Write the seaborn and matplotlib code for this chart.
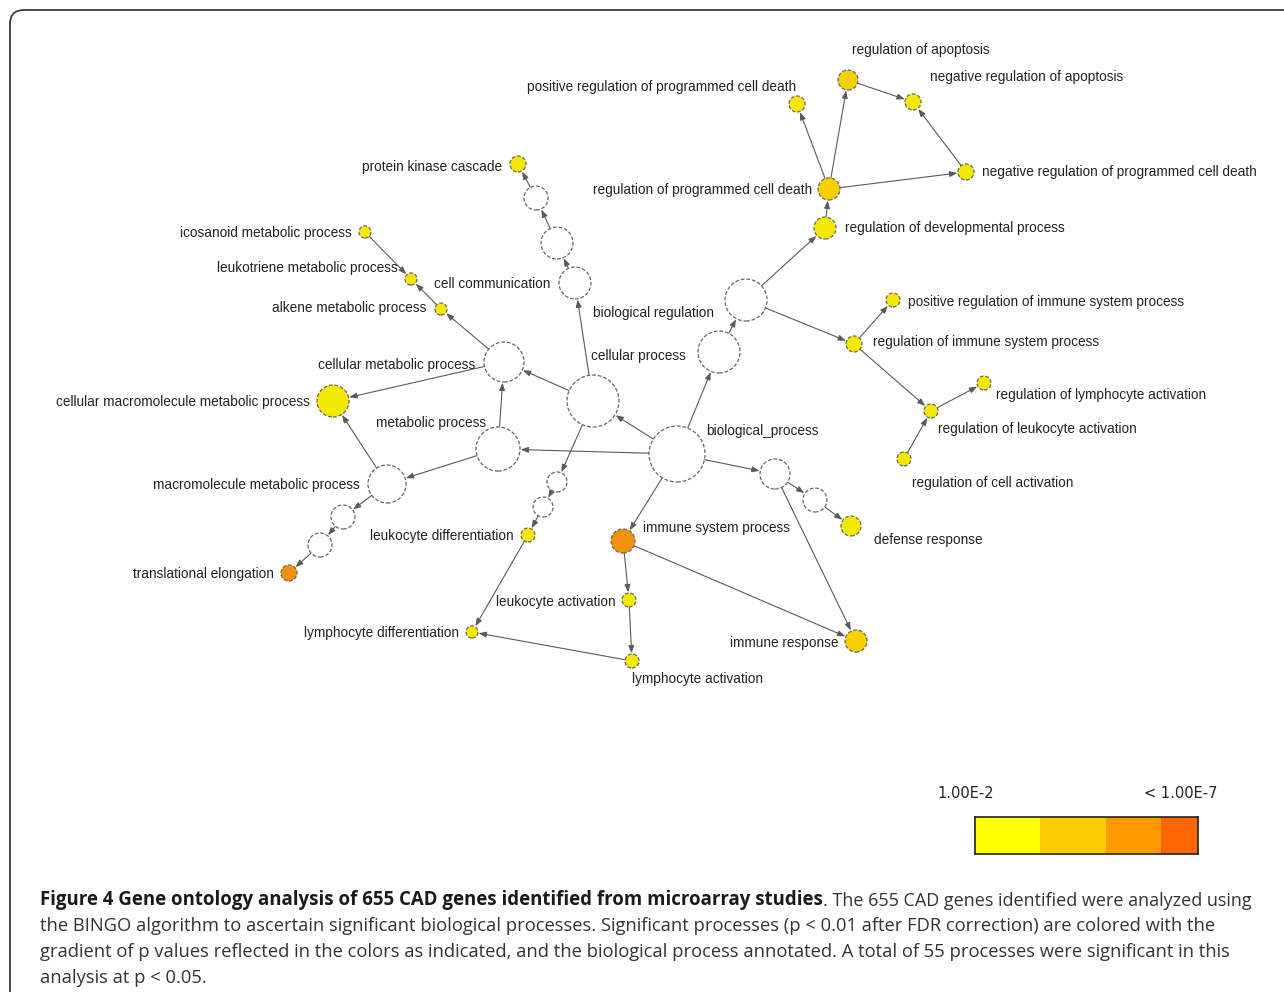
import numpy as np
import pandas as pd
import seaborn as sns
import matplotlib.pyplot as plt
from matplotlib.patches import FancyBboxPatch

sns.set_style("white")
plt.rcParams["font.family"] = ["Liberation Sans", "DejaVu Sans"]

# GO term nodes: id, layout position (px), radius (px), p-value level (0 = not significant)
node_ids = ["reg_apop", "neg_reg_apop", "pos_reg_pcd", "neg_reg_pcd", "reg_pcd", "reg_dev",
            "pkc", "w1", "w2", "cell_comm", "icos", "leuko_met", "alkene", "cell_met",
            "cell_macro", "met", "macro_met", "w3", "w4", "transl", "cell_proc", "bio_proc",
            "bio_reg", "w5", "reg_imm", "pos_reg_imm", "reg_leuk_act", "reg_lymph_act",
            "reg_cell_act", "w6", "w7", "defense", "imm_sys", "leuk_act", "lymph_act",
            "imm_resp", "lymph_diff", "leuk_diff", "w8", "w9"]
node_x = [848, 913, 797, 966, 829, 825, 518, 536, 557, 575, 365, 411, 441, 504,
          333, 498, 387, 343, 320, 289, 593, 677, 719, 746, 854, 893, 931, 984,
          904, 775, 815, 851, 623, 629, 632, 856, 472, 528, 557, 543]
node_y = [80, 102, 104, 172, 189, 228, 164, 198, 243, 283, 232, 279, 309, 362,
          401, 449, 484, 517, 545, 573, 401, 454, 352, 300, 344, 300, 411, 383,
          459, 474, 500, 526, 541, 600, 661, 641, 632, 535, 482, 507]
node_r = [10, 8, 8, 8, 11, 11, 8, 12, 16, 16, 6, 6, 6, 20,
          16, 22, 19, 12, 12, 8, 26, 28, 21, 21, 8, 7, 7, 7,
          7, 15, 12, 10, 12, 7, 7, 11, 6, 7, 10, 10]
node_level = [2, 1, 1, 1, 2, 1, 1, 0, 0, 0, 1, 1, 1, 0,
              1, 0, 0, 0, 0, 3, 0, 0, 0, 0, 1, 1, 1, 1,
              1, 0, 0, 1, 3, 1, 1, 2, 1, 1, 0, 0]

# labels of the annotated processes
label_text = ["regulation of apoptosis", "negative regulation of apoptosis",
              "positive regulation of programmed cell death",
              "negative regulation of programmed cell death",
              "regulation of programmed cell death", "regulation of developmental process",
              "protein kinase cascade", "cell communication", "icosanoid metabolic process",
              "leukotriene metabolic process", "alkene metabolic process",
              "cellular metabolic process", "cellular macromolecule metabolic process",
              "metabolic process", "macromolecule metabolic process", "translational elongation",
              "cellular process", "biological_process", "biological regulation",
              "regulation of immune system process",
              "positive regulation of immune system process",
              "regulation of leukocyte activation", "regulation of lymphocyte activation",
              "regulation of cell activation", "defense response", "immune system process",
              "leukocyte activation", "lymphocyte activation", "immune response",
              "lymphocyte differentiation", "leukocyte differentiation"]
label_x = [921, 930, 796, 982, 812, 845, 502, 550, 352, 398, 426, 475, 310,
           486, 360, 274, 591, 706, 714, 873, 908, 938, 996, 912, 874,
           643, 616, 632, 838, 459, 514]
label_y = [50, 77, 87, 172, 190, 228, 167, 284, 233, 268, 308, 365, 402,
           423, 485, 574, 356, 431, 313, 342, 302, 429, 395, 483, 540,
           528, 602, 679, 643, 633, 536]
label_ha = ["center", "left", "right", "left", "right", "left", "right", "right", "right",
            "right", "right", "right", "right", "right", "right", "right", "left", "left",
            "right", "left", "left", "left", "left", "left", "left", "left", "right",
            "left", "right", "right", "right"]

# directed GO edges (parent -> child)
edges = [("bio_proc", "cell_proc"), ("bio_proc", "met"), ("bio_proc", "bio_reg"),
         ("bio_proc", "imm_sys"), ("bio_proc", "w6"),
         ("cell_proc", "cell_met"), ("cell_proc", "cell_comm"), ("cell_proc", "w8"),
         ("met", "cell_met"), ("met", "macro_met"),
         ("cell_met", "cell_macro"), ("macro_met", "cell_macro"),
         ("cell_met", "alkene"), ("alkene", "leuko_met"), ("icos", "leuko_met"),
         ("cell_comm", "w2"), ("w2", "w1"), ("w1", "pkc"),
         ("macro_met", "w3"), ("w3", "w4"), ("w4", "transl"),
         ("w8", "w9"), ("w9", "leuk_diff"), ("leuk_diff", "lymph_diff"),
         ("imm_sys", "leuk_act"), ("leuk_act", "lymph_act"), ("lymph_act", "lymph_diff"),
         ("imm_sys", "imm_resp"), ("w6", "imm_resp"), ("w6", "w7"), ("w7", "defense"),
         ("bio_reg", "w5"), ("w5", "reg_dev"), ("reg_dev", "reg_pcd"),
         ("reg_pcd", "pos_reg_pcd"), ("reg_pcd", "reg_apop"), ("reg_pcd", "neg_reg_pcd"),
         ("reg_apop", "neg_reg_apop"), ("neg_reg_pcd", "neg_reg_apop"),
         ("w5", "reg_imm"), ("reg_imm", "pos_reg_imm"), ("reg_imm", "reg_leuk_act"),
         ("reg_cell_act", "reg_leuk_act"), ("reg_leuk_act", "reg_lymph_act")]

# p-value colour scale
legend_labels = ["1.00E-2", "< 1.00E-7"]
legend_colors = ["#ffff00", "#ffcc00", "#ff9900", "#ff6600"]
legend_widths = [65, 66, 55, 37]
level_palette = {0: "white", 1: "#f5e800", 2: "#f5cf00", 3: "#f0920e"}

caption_bold = "Figure 4 Gene ontology analysis of 655 CAD genes identified from microarray studies"
caption_lines = [
    ". The 655 CAD genes identified were analyzed using",
    "the BINGO algorithm to ascertain significant biological processes. Significant processes (p < 0.01 after FDR correction) are colored with the",
    "gradient of p values reflected in the colors as indicated, and the biological process annotated. A total of 55 processes were significant in this",
    "analysis at p < 0.05.",
]

nodes = pd.DataFrame({"id": node_ids, "x": node_x, "y": node_y,
                      "r": node_r, "level": node_level})
pos = nodes.set_index("id")

W, H = 1284, 992
fig = plt.figure(figsize=(W / 100, H / 100), dpi=100)
ax = fig.add_axes([0, 0, 1, 1])

# outer frame (rounded top-left corner)
ax.add_patch(FancyBboxPatch((10, 10), 1400, 1100, boxstyle="round,pad=0,rounding_size=14",
                            fill=False, ec="#3a3a3a", lw=1.3))

# edges
px2pt = 0.72
for a, b in edges:
    ax.annotate("", xy=(pos.loc[b, "x"], pos.loc[b, "y"]),
                xytext=(pos.loc[a, "x"], pos.loc[a, "y"]),
                arrowprops=dict(arrowstyle="-|>,head_length=0.45,head_width=0.17",
                                color="#5a5a5a", lw=0.8,
                                shrinkA=pos.loc[a, "r"] * px2pt,
                                shrinkB=pos.loc[b, "r"] * px2pt + 0.5),
                zorder=2)

# nodes
sns.scatterplot(data=nodes, x="x", y="y", hue="level", palette=level_palette,
                s=(2 * nodes["r"] * px2pt) ** 2, edgecolor="#666666", linewidth=0.9,
                linestyle=(0, (3, 1.5)), legend=False, ax=ax, zorder=3)
ax.set_xlim(0, W)
ax.set_ylim(H, 0)
ax.axis("off")

for t, lx, ly, ha in zip(label_text, label_x, label_y, label_ha):
    ax.text(lx, ly, t, ha=ha, va="center", fontsize=9.8, color="#222222", zorder=4)

# p-value legend
ax.text(937, 794, legend_labels[0], ha="left", va="center", fontsize=10.5,
        family="DejaVu Sans", color="#222222")
ax.text(1217, 794, legend_labels[1], ha="right", va="center", fontsize=10.5,
        family="DejaVu Sans", color="#222222")
lax = fig.add_axes([975 / W, 1 - 854 / H, 223 / W, 37 / H])
lefts = np.concatenate([[0], np.cumsum(legend_widths)[:-1]])
lax.barh(0, legend_widths, left=lefts, height=1, color=legend_colors, edgecolor="none")
lax.set_xlim(0, sum(legend_widths))
lax.set_ylim(-0.5, 0.5)
lax.set_xticks([])
lax.set_yticks([])
for sp in lax.spines.values():
    sp.set_visible(True)
    sp.set_color("#222222")
    sp.set_linewidth(1.2)

# caption
cap_font = ["Open Sans", "DejaVu Sans"]
cap_size = 13.2
cap_y = [905, 931, 957, 983]
bold = ax.text(40, cap_y[0], caption_bold, ha="left", va="baseline", fontsize=13.4,
               fontweight="bold", family=cap_font, color="#1a1a1a")
ax.annotate(caption_lines[0], xy=(1, 0), xycoords=bold, ha="left", va="bottom",
            fontsize=13.0, family=cap_font, color="#333333")
for line, yy in zip(caption_lines[1:], cap_y[1:]):
    ax.text(40, yy, line, ha="left", va="baseline", fontsize=cap_size,
            family=cap_font, color="#333333")

fig.savefig("out.png", dpi=100)
